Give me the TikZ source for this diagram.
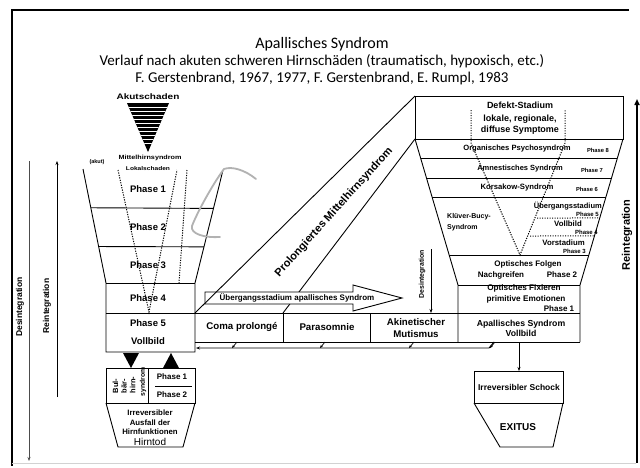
\documentclass[tikz,border=0pt]{standalone}
\usepackage{fontspec}
\setmainfont{Liberation Sans}
\newfontfamily\titlefont{Carlito}
\usetikzlibrary{arrows.meta,calc}
\newcommand{\fsz}[1]{\fontsize{#1}{#1}\selectfont\baselineskip=1.15em\relax}
\tikzset{
  ln/.style={line width=0.9pt},
  dotl/.style={line width=1pt, dash pattern=on 1.2pt off 1.3pt},
  tt/.style={font=\titlefont\fsz{15}, inner sep=0pt},
  lb/.style={inner sep=0pt, align=center, font=\bfseries\fsz{#1}},
  tip/.style={-{Stealth[length=4pt,width=3pt]}},
}
\begin{document}
\begin{tikzpicture}[x=1pt,y=-1pt]
\useasboundingbox (0,0) rectangle (640,467);
\fill[white] (0,0) rectangle (640,467);

% frame
\draw[line width=1.6pt] (629,10) -- (12,10) -- (12,466);
\draw[gray!35, line width=0.8pt] (12,463) -- (636,463);

% titles
\node[tt, font=\titlefont\fsz{16}] (ti) at (322,44) {Apallisches Syndrom};
\node[tt] (t2) at (322,61) {Verlauf nach akuten schweren Hirnschäden (traumatisch, hypoxisch, etc.)};
\node[tt] (t3) at (322,78) {F. Gerstenbrand, 1967, 1977, F. Gerstenbrand, E. Rumpl, 1983};

% left vertical arrows
\coordinate (dtop) at (29,161); \coordinate (dbot) at (29,461);
\draw[line width=1pt, black!70, tip] (dtop) -- (dbot);
\node[lb=8.5, rotate=90] (ldes) at (20,307) {Desintegration};
\coordinate (rbot) at (57,397); \coordinate (rtop) at (57,161);
\draw[line width=1pt, tip] (rbot) -- (rtop);
\node[lb=8.5, rotate=90] (lrei) at (47,306) {Reintegration};

% right vertical arrow
\coordinate (Rb) at (637,463); \coordinate (Rt) at (637,99);
\draw[line width=2pt, -{Triangle[length=6pt,width=5pt]}] (Rb) -- (Rt);
\node[lb=11, rotate=90] (rrei) at (627,235) {Reintegration};

% Akutschaden
\node[lb=8, xscale=1.25] (akut) at (148,97) {Akutschaden};
\fill (127,103) -- (169,103) -- (148,152) -- cycle;
\begin{scope}
\clip (127,103) -- (169,103) -- (148,152) -- cycle;
\foreach \yy in {107,111,...,143} \draw[white, line width=0.6pt] (120,\yy) -- (175,\yy);
\end{scope}
\node[lb=6, xscale=1.2] (mhs) at (150,158) {Mittelhirnsyndrom};
\node[lb=5.5, xscale=1.2] (lok) at (148,169) {Lokalschaden};
\node[lb=5.5] (akt) at (97,162) {(akut)};

% left funnel
\coordinate (LA) at (83,169); \coordinate (LB) at (106,283);
\coordinate (RA) at (223,170); \coordinate (RB) at (195,283);
\coordinate (P5l) at (106,352); \coordinate (P5r) at (195,352);
\draw[ln] (LA) -- (LB) -- (P5l) -- (P5r) -- (RB) -- (RA);
\draw[ln] ($(LA)!0.34!(LB)$) -- ($(RA)!0.34!(RB)$);
\draw[ln] ($(LA)!0.68!(LB)$) -- ($(RA)!0.68!(RB)$);
\draw[ln] (LB) -- (RB);
\draw[ln] (106,313) -- (195,313);
\draw[dotl] (118,170) -- (149,312) -- (177,170);
\draw[dotl] (187,170) -- (179,283);
\node[lb=9.5] (p1) at (148,189) {Phase 1};
\node[lb=9.5] (p2) at (148,227) {Phase 2};
\node[lb=9.5] (p3) at (148,265) {Phase 3};
\node[lb=9.5] (p4) at (148,298) {Phase 4};
\node[lb=9.5] (p5) at (148,323) {Phase 5};
\node[lb=9.5] (p5v) at (148,341) {Vollbild};

% squiggle (scan mark)
\draw[gray!60, line width=1.8pt, line cap=round] (256,179) .. controls (245,170) and (232,166) .. (224,169) .. controls (212,185) and (196,215) .. (192,226) .. controls (190,234) and (205,238) .. (220,237);

% triangles
\fill (123,353) -- (139,353) -- (131,368) -- cycle;
\fill (163,368) -- (179,368) -- (171,353) -- cycle;

% Bulbaerhirnsyndrom
\draw[ln] (106,368) rectangle (195,403);
\draw[ln] (148,368) -- (148,403);
\draw[ln] (155,386) -- (192,386);
\draw[ln] (106,403) -- (118,447) -- (183,447) -- (195,403);
\node[lb=7.5, rotate=90, align=left] (bul) at (124,385) {Bul-\\bär-\\hirn-};
\node[lb=6.8, rotate=90] (syn) at (143,382) {syndrom};
\node[lb=8] (bp1) at (172,377) {Phase 1};
\node[lb=8] (bp2) at (172,395) {Phase 2};
\node[lb=7.8] (irr1) at (150,413) {Irreversibler};
\node[lb=7.8] (irr2) at (150,423) {Ausfall der};
\node[lb=7.8] (irr3) at (150,432) {Hirnfunktionen};
\node[lb=10, font=\fsz{10}] (htod) at (150,442) {Hirntod};

% big diagonal band
\coordinate (DTL) at (415,96); \coordinate (DA) at (415,139);
\draw[ln] (283,313) -- (DA);
\node[lb=11, rotate=48] (pm) at (334,212) {Prolongiertes Mittelhirnsyndrom};

% Uebergangsstadium arrow
\draw[ln, fill=white] (205,292) -- (353,292) -- (353,285) -- (402,298) -- (353,311) -- (353,304) -- (205,304) -- cycle;
\node[lb=8] (ueb) at (297,298) {Übergangsstadium apallisches Syndrom};
\draw[ln] (195,313) -- (DTL);

% middle band
\draw[ln] (195,313) -- (580,313);
\draw[ln] (195,342) -- (580,342);
\draw[ln] (283,313) -- (283,342);
\draw[ln] (370,313) -- (370,342);
\node[lb=9.7] (coma) at (242,327) {Coma prolongé};
\node[lb=9.7] (para) at (327,327) {Parasomnie};
\node[lb=9.7] (akin) at (416,328) {Akinetischer\\Mutismus};

% middle Desintegration arrow
\coordinate (mdt) at (431,249); \coordinate (mdb) at (431,313);
\draw[line width=0.8pt, tip] (mdt) -- (mdb);
\node[lb=6.9, rotate=90] (mdes) at (422,274) {Desintegration};

% return line
\coordinate (ret0) at (494,342); \coordinate (ret1) at (489,348); \coordinate (ret2) at (196,348);
\draw[ln, tip] (ret0) -- (ret1) -- (ret2);
\foreach \x in {232,320,409}
  \draw[line width=0.7pt, -{Stealth[length=3pt,width=2.5pt]}] ({\x+5},342) -- (\x,348);

% right funnel
\coordinate (DB) at (458,285); \coordinate (EA) at (623,139); \coordinate (EB) at (580,285);
\draw[ln] (DTL) rectangle (EA);
\draw[ln] (DA) -- (DB) -- (458,342);
\draw[ln] (EA) -- (EB) -- (580,342);
\draw[ln] (DB) -- (EB);
\foreach \t in {0.130,0.267,0.397,0.795}
  \draw[ln] ($(DA)!\t!(DB)$) -- ($(EA)!\t!(EB)$);
\draw[dotl] (537,218) -- ($(EA)!0.541!(EB)$);
\draw[dotl] (530,236) -- ($(EA)!0.664!(EB)$);
\draw[dotl] (471,110) -- (471,143) -- (520,255) -- (565,143) -- (565,110);

\node[lb=9] (def1) at (520,105) {Defekt-Stadium};
\node[lb=9] (def2) at (520,119) {lokale, regionale,};
\node[lb=9] (def3) at (520,130) {diffuse Symptome};
\node[lb=7.6] (org) at (517,149) {Organisches Psychosyndrom};
\node[lb=5.8] (ph8) at (598,150) {Phase 8};
\node[lb=7.5] (amn) at (520,169) {Amnestisches Syndrom};
\node[lb=5.8] (ph7) at (592,170) {Phase 7};
\node[lb=7.7] (kor) at (517,188) {Korsakow-Syndrom};
\node[lb=5.8] (ph6) at (587,189) {Phase 6};
\node[lb=7, anchor=west] (klu1) at (447,217) {Klüver-Bucy-};
\node[lb=7, anchor=west] (klu2) at (447,228) {Syndrom};
\node[lb=7.5, anchor=east] (ueg) at (602,206) {Übergangsstadium};
\node[lb=6, anchor=east] (ph5) at (599,214) {Phase 5};
\node[lb=7.8, anchor=east] (vol) at (582,224) {Vollbild};
\node[lb=6, anchor=east] (ph4) at (598,232) {Phase 4};
\node[lb=7.8, anchor=east] (vor) at (585,243) {Vorstadium};
\node[lb=6, anchor=east] (ph3) at (586,251) {Phase 3};
\node[lb=8] (of1) at (528,264) {Optisches Folgen};
\node[lb=8] (of2) at (501,275) {Nachgreifen};
\node[lb=8] (ph2) at (562,275) {Phase 2};
\node[lb=8.2] (fx1) at (524,288) {Optisches Fixieren};
\node[lb=8.2] (fx2) at (526,299) {primitive Emotionen};
\node[lb=8] (ph1) at (559,309) {Phase 1};
\node[lb=8.7] (aps) at (521,328) {Apallisches Syndrom\\Vollbild};

% Schock / Exitus
\coordinate (sch) at (519,371);
\draw[ln] (474,371) rectangle (563,403);
\draw[ln] (474,403) -- (500,447) -- (553,447) -- (563,403);
\draw[line width=0.8pt, tip] (519,342) -- (sch);
\draw[line width=0.7pt, -{Stealth[length=3pt,width=2.5pt]}] (495,342) -- (490,348);
\node[lb=8.5] (schock) at (519,387) {Irreversibler Schock};
\node[lb=10] (exitus) at (518,427) {EXITUS};
\end{tikzpicture}
\end{document}
